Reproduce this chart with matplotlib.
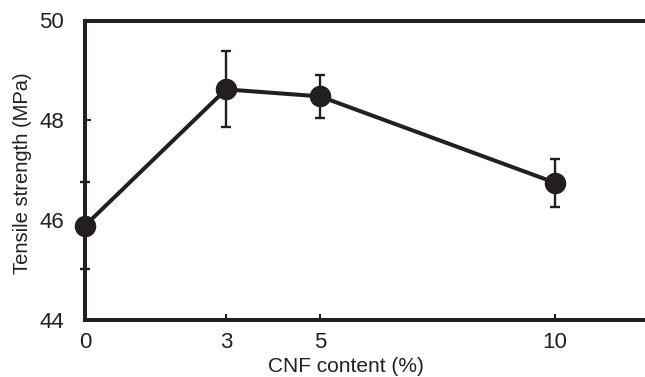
import numpy as np
import matplotlib.pyplot as plt

# CNF content (%) and tensile strength (MPa) with error bars
cnf_content = [0, 3, 5, 10]
tensile_strength = [45.89, 48.62, 48.48, 46.75]
tensile_err = [0.87, 0.76, 0.43, 0.48]

x_ticks = [0, 3, 5, 10]
y_ticks = [44, 46, 48, 50]

col = '#231f20'
plt.rcParams['font.family'] = ['Liberation Sans', 'DejaVu Sans']

fig = plt.figure(figsize=(6.45, 3.77), dpi=100)
ax = fig.add_axes([85/645, 57/377, 12*47/645, 299.5/377])

ax.errorbar(cnf_content, tensile_strength, yerr=tensile_err, color=col,
            lw=2.9, marker='o', ms=14.5, ecolor=col, elinewidth=1.7,
            capsize=3.3, capthick=1.7, zorder=3, clip_on=False)

ax.set_xlim(0, 12)
ax.set_ylim(44, 50)
ax.set_xticks(x_ticks)
ax.set_yticks(y_ticks)
ax.tick_params(direction='in', length=4, width=1.5, colors=col, labelsize=16)
ax.tick_params(axis='y', pad=15)
ax.tick_params(axis='x', pad=9)
for s in ['left', 'bottom', 'top']:
    ax.spines[s].set_linewidth(2.9)
    ax.spines[s].set_color(col)
    ax.spines[s].set_zorder(4)
ax.spines['right'].set_visible(False)

ax.set_xlabel('CNF content (%)', fontsize=15, color=col)
ax.set_ylabel('Tensile strength (MPa)', fontsize=14.5, color=col)
ax.xaxis.set_label_coords(0.463, -0.122)
ax.yaxis.set_label_coords(-0.094, 0.49)

fig.savefig('out.png', dpi=100)
